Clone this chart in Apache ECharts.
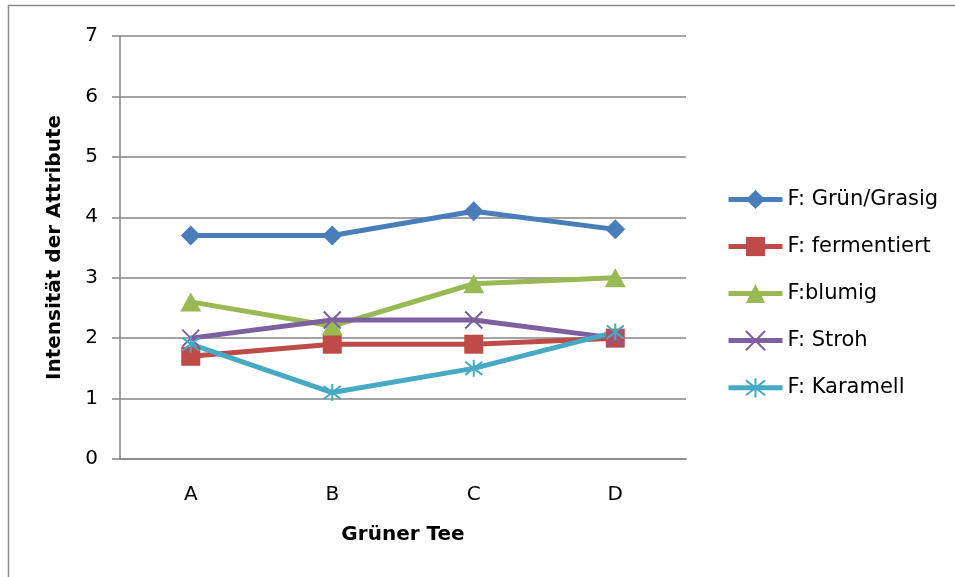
<!DOCTYPE html>
<html>
<head>
<meta charset="utf-8">
<script src="https://cdn.jsdelivr.net/npm/echarts@6/dist/echarts.min.js"></script>
<style>
  html, body { margin: 0; padding: 0; background: #fff; }
  #chart { width: 955px; height: 577px; }
</style>
</head>
<body>
<div id="chart"></div>
<script>
// Tea samples on the category axis
const categories = ['A', 'B', 'C', 'D'];

// Mean attribute intensities per sample
const gruenGrasig = [3.7, 3.7, 4.1, 3.8];
const fermentiert = [1.7, 1.9, 1.9, 2.0];
const blumig      = [2.6, 2.2, 2.9, 3.0];
const stroh       = [2.0, 2.3, 2.3, 2.0];
const karamell    = [1.9, 1.1, 1.5, 2.1];

const seriesNames = ['F: Grün/Grasig', 'F: fermentiert', 'F:blumig', 'F: Stroh', 'F: Karamell'];
const yTicks = [0, 1, 2, 3, 4, 5, 6, 7];

const FONT = '"DejaVu Sans", sans-serif';

// Stroked marker shapes (cross and asterisk)
const crossPath = 'path://M0,0L10,10M10,0L0,10';
const starPath = 'path://M0,0L10,10M10,0L0,10M5,-1.5L5,11.5';

function lineSeries(name, data, color, symbol, size, stroked) {
  return {
    name: name,
    type: 'line',
    data: data,
    symbol: symbol,
    symbolSize: size,
    showAllSymbol: true,
    lineStyle: { color: color, width: 5 },
    itemStyle: stroked
      ? { color: 'rgba(0,0,0,0)', borderColor: color, borderWidth: 2 }
      : { color: color, borderWidth: 0 },
    emphasis: { disabled: true },
    animation: false
  };
}

const chart = echarts.init(document.getElementById('chart'));
chart.setOption({
  backgroundColor: '#fff',
  textStyle: { fontFamily: FONT },
  graphic: [{
    type: 'rect',
    shape: { x: 8.5, y: 5.5, width: 1000, height: 1000 },
    style: { fill: 'none', stroke: '#8c8c8c', lineWidth: 1.5 },
    silent: true
  }],
  grid: { left: 120, right: 269, top: 36, bottom: 118 },
  legend: {
    orient: 'vertical',
    left: 721,
    top: 184,
    itemWidth: 54,
    itemHeight: 24,
    itemGap: 26,
    data: seriesNames,
    lineStyle: { width: 5 },
    textStyle: { fontFamily: FONT, fontSize: 21, color: '#000' },
    selectedMode: false
  },
  xAxis: {
    type: 'category',
    data: categories,
    boundaryGap: true,
    name: 'Grüner Tee',
    nameLocation: 'middle',
    nameGap: 66,
    nameTextStyle: { fontFamily: FONT, fontSize: 20, fontWeight: 'bold', color: '#000' },
    axisLine: { lineStyle: { color: '#868686', width: 1.5 } },
    axisTick: { show: false },
    axisLabel: { margin: 26, fontFamily: FONT, fontSize: 20, color: '#000' },
    splitLine: { show: false }
  },
  yAxis: {
    type: 'value',
    min: yTicks[0],
    max: yTicks[yTicks.length - 1],
    interval: 1,
    name: 'Intensität der Attribute',
    nameLocation: 'middle',
    nameGap: 55,
    nameTextStyle: { fontFamily: FONT, fontSize: 20, fontWeight: 'bold', color: '#000' },
    axisLine: { show: true, lineStyle: { color: '#868686', width: 1.5 } },
    axisTick: { show: true, length: 8, lineStyle: { color: '#868686', width: 1.5 } },
    axisLabel: { margin: 22, fontFamily: FONT, fontSize: 20, color: '#000' },
    splitLine: { show: true, lineStyle: { color: '#868686', width: 1.5 } }
  },
  series: [
    lineSeries(seriesNames[0], gruenGrasig, '#4A7EBB', 'diamond', [20, 20], false),
    lineSeries(seriesNames[1], fermentiert, '#BE4B48', 'rect', [19, 19], false),
    lineSeries(seriesNames[2], blumig, '#98B954', 'triangle', [21, 19], false),
    lineSeries(seriesNames[3], stroh, '#7D60A0', crossPath, [17, 17], true),
    lineSeries(seriesNames[4], karamell, '#46AAC5', starPath, [17, 17], true)
  ]
});
</script>
</body>
</html>
